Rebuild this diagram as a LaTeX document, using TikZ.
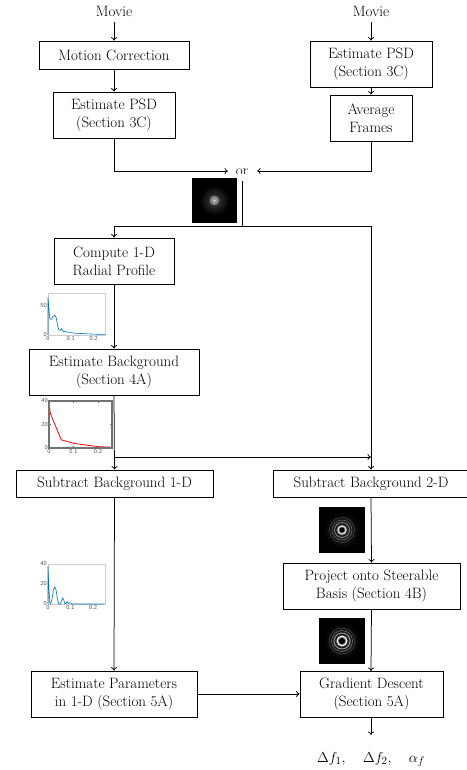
\documentclass[tikz,border=0pt]{standalone}
\usetikzlibrary{arrows.meta}
\definecolor{mblue}{RGB}{0,114,189}
\definecolor{axgray}{RGB}{205,205,205}
\begin{document}
\begin{tikzpicture}[x=1pt,y=-1pt,
  font=\fontsize{15}{18}\selectfont,
  box/.style={draw, line width=0.75pt, align=center, inner sep=2pt, minimum height=46pt},
  conn/.style={line width=0.75pt},
  arr/.style={conn,-{To[length=3.5pt,width=6pt]}},
  tick/.style={font=\sffamily\fontsize{6}{7}\selectfont, text=black!70, inner sep=1pt}]
\useasboundingbox (0,0) rectangle (466,770);

% nodes
\node[anchor=base, inner sep=5pt] (m1) at (114,17) {Movie};
\node[anchor=base, inner sep=5pt] (m2) at (371,17) {Movie};
\node[box, minimum width=150pt, minimum height=28pt] (mc) at (114,55) {Motion Correction};
\node[box, minimum width=122pt] (psdL) at (114,115) {Estimate PSD\\(Section 3C)};
\node[box, minimum width=122pt] (psdR) at (371,64) {Estimate PSD\\(Section 3C)};
\node[box, minimum width=82pt] (avg) at (371,118) {Average\\Frames};
\node[box, minimum width=120pt] (comp) at (114,261) {Compute 1-D\\Radial Profile};
\node[box, minimum width=170pt] (bg) at (114,372) {Estimate Background\\(Section 4A)};
\node[box, minimum width=197pt, minimum height=27pt] (sub1) at (114.5,483.5) {Subtract Background 1-D};
\node[box, minimum width=196pt, minimum height=27pt] (sub2) at (371,483.5) {Subtract Background 2-D};
\node[box, minimum width=177pt] (proj) at (371.5,586) {Project onto Steerable\\Basis (Section 4B)};
\node[box, minimum width=166pt] (par) at (114,694) {Estimate Parameters\\in 1-D (Section 5A)};
\node[box, minimum width=143pt] (grad) at (371.5,694) {Gradient Descent\\(Section 5A)};
\node[anchor=base, inner sep=0pt] (out) at (371,762) {$\Delta f_1,\quad \Delta f_2,\quad \alpha_f$};
\node (or) at (242,172) {or};

% coordinates
\coordinate (orL) at (228,171);
\coordinate (orR) at (257,171);
\coordinate (orB) at (242,181);
\coordinate (split) at (242,226);
\coordinate (jl) at (114,226);
\coordinate (jr) at (371,226);
\coordinate (bgL) at (114,457);
\coordinate (bgR) at (371,457);
\coordinate (outT) at (371,735);

% clip of "or"
\fill[white] (230,174) rectangle (256,179);

% connectors
\draw[arr] (m1.south) -- (mc.north);
\draw[arr] (m2.south) -- (psdR.north);
\draw[arr] (mc.south) -- (psdL.north);
\draw[arr] (psdR.south) -- (avg.north);
\draw[arr] (psdL.south) |- (orL);
\draw[arr] (avg.south) |- (orR);
\draw[conn] (orB) -- (split);
\draw[conn] (jl) -- (jr);
\draw[arr] (jl) -- (comp.north);
\draw[arr] (jr) -- (sub2.north);
\draw[arr] (comp.south) -- (bg.north);
\draw[arr] (bg.south) -- (sub1.north);
\draw[arr] (bgL) -- (bgR);
\draw[arr] (sub2.south) -- (proj.north);
\draw[arr] (proj.south) -- (371,671);
\draw[arr] (sub1.south) -- (par.north);
\draw[arr] (par.east) -- (grad.west);
\draw[arr] (371,717) -- (outT);

% PSD image 1
\begin{scope}[shift={(214.5,200.5)}]
  \fill[black] (-22.5,-22.5) rectangle (22.5,22.5);
  \fill[inner color=black!75, outer color=black] (0,0) circle (15);
  \fill[black!55] (0,0) circle (5);
  \fill[black!42] (0,0) circle (3.4);
  \fill[white] (0,0) circle (0.9);
\end{scope}

% PSD image 2
\begin{scope}[shift={(342,530)}]
  \fill[black] (-23,-23) rectangle (23,23);
  \fill[inner color=black!80, outer color=black] (0,0) circle (18);
  \draw[black!70, line width=0.5pt] (0,0) circle (12.5);
  \draw[black!60, line width=0.6pt] (0,0) circle (10);
  \draw[black!45, line width=0.7pt] (0,0) circle (7.5);
  \fill[black!8] (0,0) circle (4.8);
  \fill[black!55] (0,0) circle (3.5);
  \fill[black] (0,0) circle (2.5);
\end{scope}

% PSD image 3
\begin{scope}[shift={(342,641)}]
  \fill[black] (-23,-23) rectangle (23,23);
  \fill[inner color=black!80, outer color=black] (0,0) circle (18);
  \draw[black!70, line width=0.5pt] (0,0) circle (13);
  \draw[black!55, line width=0.6pt] (0,0) circle (10.5);
  \draw[black!35, line width=0.8pt] (0,0) circle (8);
  \fill[white] (0,0) circle (5.5);
  \fill[black!50] (0,0) circle (4.2);
  \fill[black] (0,0) circle (3.1);
\end{scope}

% Plot A: radial profile
\begin{scope}[shift={(48,335)}, x=228pt, y=0.58pt]
  \draw[axgray, line width=0.4pt] (0,0) rectangle (0.25,72);
  \draw[mblue, line width=0.6pt] (0,0) -- (0,65) -- (0.003,50) -- (0.008,28) -- (0.015,27) -- (0.022,32) -- (0.03,34) -- (0.036,30) -- (0.042,16) -- (0.048,8) -- (0.054,8) -- (0.06,11) -- (0.065,7) -- (0.07,5) -- (0.076,7) -- (0.082,5) -- (0.09,5) -- (0.1,4) -- (0.12,3) -- (0.15,2.5) -- (0.2,1.5) -- (0.25,1);
  \node[tick, anchor=east] at (0,50) {50};
  \node[tick, anchor=east] at (0,0) {0};
  \node[tick, anchor=north] at (0,0) {0};
  \node[tick, anchor=north] at (0.1,0) {0.1};
  \node[tick, anchor=north] at (0.2,0) {0.2};
\end{scope}

% Plot B: background
\begin{scope}[shift={(49,448)}, x=245pt, y=1.175pt]
  \draw[red, line width=0.8pt] (0,0) -- (0,40) -- (0.005,30) -- (0.01,27) -- (0.05,7) -- (0.1,4) -- (0.15,2.5) -- (0.2,1.2) -- (0.257,0.6);
  \draw[black!55, line width=1.2pt] (0,0) rectangle (0.257,40);
  \foreach \t in {0.1,0.2} {
    \draw[black!55, line width=0.5pt] (\t,40) -- (\t,38);
    \draw[black!55, line width=0.5pt] (\t,0) -- (\t,2);
  }
  \foreach \t in {20} {
    \draw[black!55, line width=0.5pt] (0.257,\t) -- (0.249,\t);
    \draw[black!55, line width=0.5pt] (0,\t) -- (0.008,\t);
  }
  \node[tick, anchor=east] at (0,40) {40};
  \node[tick, anchor=east] at (0,20) {20};
  \node[tick, anchor=east] at (0,0) {0};
  \node[tick, anchor=north] at (0,0) {0};
  \node[tick, anchor=north] at (0.1,0) {0.1};
  \node[tick, anchor=north] at (0.2,0) {0.2};
\end{scope}

% Plot C: subtracted profile
\begin{scope}[shift={(48,604)}, x=225pt, y=1pt]
  \draw[axgray, line width=0.4pt] (0,0) rectangle (0.252,40);
  \draw[mblue, line width=0.6pt] (0,0) -- (0,38) -- (0.003,20) -- (0.008,2) -- (0.012,0) -- (0.018,5) -- (0.024,14) -- (0.03,17) -- (0.036,14) -- (0.042,5) -- (0.048,0) -- (0.055,0) -- (0.06,3) -- (0.065,6) -- (0.07,4) -- (0.075,0.5) -- (0.08,0.5) -- (0.085,2.5) -- (0.09,0.5) -- (0.095,1) -- (0.1,1) -- (0.106,0) -- (0.252,0);
  \node[tick, anchor=east] at (0,40) {40};
  \node[tick, anchor=east] at (0,20) {20};
  \node[tick, anchor=east] at (0,0) {0};
  \node[tick, anchor=north] at (0,0) {0};
  \node[tick, anchor=north] at (0.1,0) {0.1};
  \node[tick, anchor=north] at (0.2,0) {0.2};
\end{scope}
\end{tikzpicture}
\end{document}
